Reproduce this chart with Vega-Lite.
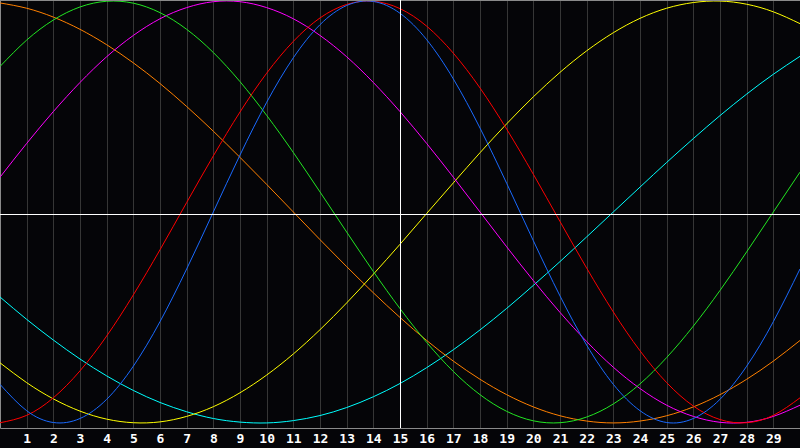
{
  "$schema": "https://vega.github.io/schema/vega-lite/v6.json",
  "width": 800,
  "height": 428,
  "autosize": {"type": "none"},
  "padding": {"left": 0, "top": 0, "right": 0, "bottom": 20},
  "background": "#050508",
  "config": {"view": {"stroke": null}},
  "layer": [
    {
      "data": {"values": [
        {"day": 0, "physical": -81.7, "emotional": -99.9, "intellectual": 69.0, "intuitive": 16.5, "aesthetic": -71.5, "awareness": 99.1, "spiritual": -40.3},
        {"day": 1, "physical": -94.2, "emotional": -96.4, "intellectual": 81.5, "intuitive": 32.5, "aesthetic": -80.9, "awareness": 96.6, "spiritual": -50.9},
        {"day": 2, "physical": -99.8, "emotional": -88.1, "intellectual": 91.0, "intuitive": 47.6, "aesthetic": -88.6, "awareness": 92.4, "spiritual": -60.7},
        {"day": 3, "physical": -97.9, "emotional": -75.3, "intellectual": 97.2, "intuitive": 61.4, "aesthetic": -94.4, "awareness": 86.6, "spiritual": -69.7},
        {"day": 4, "physical": -88.8, "emotional": -58.8, "intellectual": 99.9, "intuitive": 73.6, "aesthetic": -98.2, "awareness": 79.3, "spiritual": -77.7},
        {"day": 5, "physical": -73.1, "emotional": -39.3, "intellectual": 99.0, "intuitive": 83.7, "aesthetic": -99.9, "awareness": 70.7, "spiritual": -84.6},
        {"day": 6, "physical": -52.0, "emotional": -17.9, "intellectual": 94.5, "intuitive": 91.6, "aesthetic": -99.5, "awareness": 60.9, "spiritual": -90.3},
        {"day": 7, "physical": -27.0, "emotional": 4.5, "intellectual": 86.6, "intuitive": 96.9, "aesthetic": -96.9, "awareness": 50.0, "spiritual": -94.7},
        {"day": 8, "physical": 0.0, "emotional": 26.6, "intellectual": 75.6, "intuitive": 99.7, "aesthetic": -92.3, "awareness": 38.3, "spiritual": -97.9},
        {"day": 9, "physical": 27.0, "emotional": 47.4, "intellectual": 61.8, "intuitive": 99.7, "aesthetic": -85.7, "awareness": 25.9, "spiritual": -99.6},
        {"day": 10, "physical": 52.0, "emotional": 65.8, "intellectual": 45.8, "intuitive": 96.9, "aesthetic": -77.3, "awareness": 13.1, "spiritual": -100.0},
        {"day": 11, "physical": 73.1, "emotional": 80.9, "intellectual": 28.2, "intuitive": 91.6, "aesthetic": -67.3, "awareness": 0.0, "spiritual": -98.9},
        {"day": 12, "physical": 88.8, "emotional": 92.0, "intellectual": 9.5, "intuitive": 83.7, "aesthetic": -55.8, "awareness": -13.1, "spiritual": -96.5},
        {"day": 13, "physical": 97.9, "emotional": 98.4, "intellectual": -9.5, "intuitive": 73.6, "aesthetic": -43.1, "awareness": -25.9, "spiritual": -92.7},
        {"day": 14, "physical": 99.8, "emotional": 99.9, "intellectual": -28.2, "intuitive": 61.4, "aesthetic": -29.5, "awareness": -38.3, "spiritual": -87.6},
        {"day": 15, "physical": 94.2, "emotional": 96.4, "intellectual": -45.8, "intuitive": 47.6, "aesthetic": -15.3, "awareness": -50.0, "spiritual": -81.3},
        {"day": 16, "physical": 81.7, "emotional": 88.1, "intellectual": -61.8, "intuitive": 32.5, "aesthetic": -0.7, "awareness": -60.9, "spiritual": -73.8},
        {"day": 17, "physical": 63.1, "emotional": 75.3, "intellectual": -75.6, "intuitive": 16.5, "aesthetic": 13.8, "awareness": -70.7, "spiritual": -65.3},
        {"day": 18, "physical": 39.8, "emotional": 58.8, "intellectual": -86.6, "intuitive": 0.0, "aesthetic": 28.1, "awareness": -79.3, "spiritual": -55.9},
        {"day": 19, "physical": 13.6, "emotional": 39.3, "intellectual": -94.5, "intuitive": -16.5, "aesthetic": 41.8, "awareness": -86.6, "spiritual": -45.7},
        {"day": 20, "physical": -13.6, "emotional": 17.9, "intellectual": -99.0, "intuitive": -32.5, "aesthetic": 54.6, "awareness": -92.4, "spiritual": -34.8},
        {"day": 21, "physical": -39.8, "emotional": -4.5, "intellectual": -99.9, "intuitive": -47.6, "aesthetic": 66.2, "awareness": -96.6, "spiritual": -23.5},
        {"day": 22, "physical": -63.1, "emotional": -26.6, "intellectual": -97.2, "intuitive": -61.4, "aesthetic": 76.4, "awareness": -99.1, "spiritual": -11.8},
        {"day": 23, "physical": -81.7, "emotional": -47.4, "intellectual": -91.0, "intuitive": -73.6, "aesthetic": 85.0, "awareness": -100.0, "spiritual": 0.0},
        {"day": 24, "physical": -94.2, "emotional": -65.8, "intellectual": -81.5, "intuitive": -83.7, "aesthetic": 91.8, "awareness": -99.1, "spiritual": 11.8},
        {"day": 25, "physical": -99.8, "emotional": -80.9, "intellectual": -69.0, "intuitive": -91.6, "aesthetic": 96.6, "awareness": -96.6, "spiritual": 23.5},
        {"day": 26, "physical": -97.9, "emotional": -92.0, "intellectual": -54.1, "intuitive": -96.9, "aesthetic": 99.3, "awareness": -92.4, "spiritual": 34.8},
        {"day": 27, "physical": -88.8, "emotional": -98.4, "intellectual": -37.2, "intuitive": -99.7, "aesthetic": 100.0, "awareness": -86.6, "spiritual": 45.7},
        {"day": 28, "physical": -73.1, "emotional": -99.9, "intellectual": -18.9, "intuitive": -99.7, "aesthetic": 98.5, "awareness": -79.3, "spiritual": 55.9},
        {"day": 29, "physical": -52.0, "emotional": -96.4, "intellectual": 0.0, "intuitive": -96.9, "aesthetic": 94.9, "awareness": -70.7, "spiritual": 65.3},
        {"day": 30, "physical": -27.0, "emotional": -88.1, "intellectual": 18.9, "intuitive": -91.6, "aesthetic": 89.3, "awareness": -60.9, "spiritual": 73.8}
      ]},
      "transform": [
        {"fold": ["spiritual", "awareness", "aesthetic", "intuitive", "intellectual", "emotional", "physical"], "as": ["cycle", "v"]}
      ],
      "mark": {"type": "line", "interpolate": "natural", "strokeWidth": 1, "clip": true},
      "encoding": {
        "x": {
          "field": "day", "type": "quantitative",
          "scale": {"domain": [0, 30], "nice": false, "zero": false},
          "axis": {
            "values": [1,2,3,4,5,6,7,8,9,10,11,12,13,14,15,16,17,18,19,20,21,22,23,24,25,26,27,28,29],
            "tickCount": 30,
            "title": null, "ticks": false, "grid": true, "gridColor": "#363636", "gridWidth": 1,
            "domain": true, "domainColor": "#8a8a8a", "domainWidth": 1,
            "labelColor": "#ffffff", "labelFont": "DejaVu Sans Mono", "labelFontSize": 13, "labelFontWeight": "bold",
            "labelPadding": 4, "labelOverlap": false, "labelExpr": "datum.label"
          }
        },
        "y": {
          "field": "v", "type": "quantitative",
          "scale": {"domain": [-102.4, 100.5], "nice": false, "zero": false},
          "axis": {"title": null, "labels": false, "ticks": false, "grid": false, "domain": true, "domainColor": "#8a8a8a", "domainWidth": 1}
        },
        "color": {
          "field": "cycle", "type": "nominal", "legend": null,
          "scale": {
            "domain": ["physical", "emotional", "intellectual", "intuitive", "aesthetic", "awareness", "spiritual"],
            "range": ["#1a6aff", "#ff0000", "#22e622", "#ff00ff", "#ffff00", "#ff8000", "#00ffff"]
          }
        },
        "order": {"field": "day", "type": "quantitative"}
      }
    },
    {
      "data": {"values": [{}]},
      "mark": {"type": "rule", "color": "#8a8a8a", "strokeWidth": 2},
      "encoding": {"y": {"datum": 100.5, "type": "quantitative"}}
    },
    {
      "data": {"values": [{}]},
      "mark": {"type": "rule", "color": "#ffffff", "strokeWidth": 1, "xOffset": 0.5},
      "encoding": {"x": {"datum": 15, "type": "quantitative"}}
    },
    {
      "data": {"values": [{}]},
      "mark": {"type": "rule", "color": "#ffffff", "strokeWidth": 1, "yOffset": 0.4},
      "encoding": {"y": {"datum": -1, "type": "quantitative"}}
    }
  ]
}
